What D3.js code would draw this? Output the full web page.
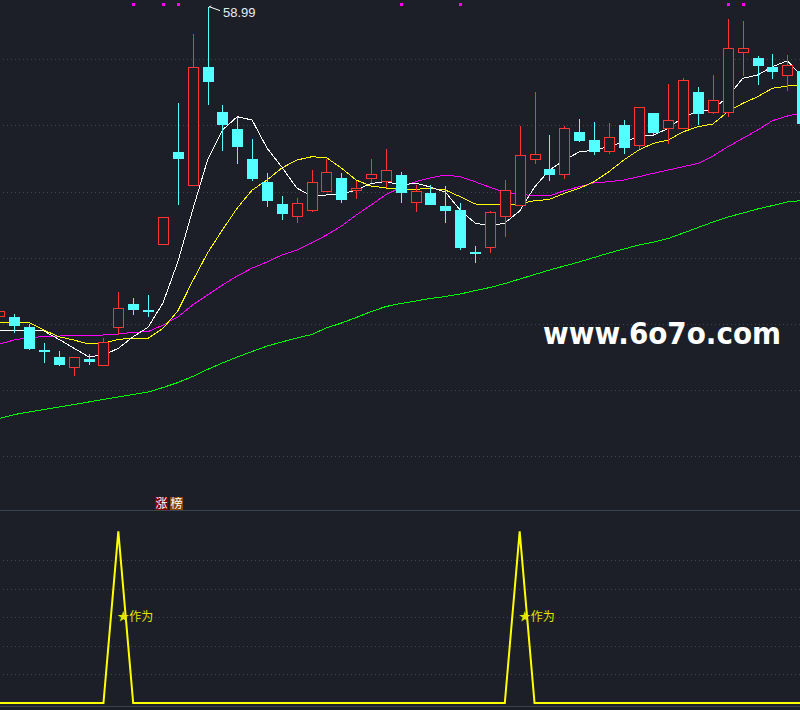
<html>
<head>
<meta charset="utf-8">
<title></title>
<script src="https://cdn.jsdelivr.net/npm/d3@7/dist/d3.min.js"></script>
<style type="text/css">
body { margin: 0; background: #1c1f27; }
svg { display: block; }
</style>
</head>
<body>
<script type="text/javascript">
// k-line values, one per bar (55 bars)
var open  = [35.56,35.51,34.73,33.01,32.48,31.70,32.33,31.82,34.73,36.47,36.01,41.01,47.97,45.47,54.42,51.01,49.73,47.46,45.72,44.03,
             43.09,43.58,45.02,46.00,45.09,45.97,45.74,46.25,44.18,44.89,43.90,43.60,40.39,40.78,43.12,43.96,47.41,46.70,46.30,49.50,
             48.90,48.04,50.03,48.50,50.94,49.75,49.78,52.53,50.99,50.99,55.53,55.10,54.42,53.76,54.12];
var high  = [36.04,35.73,34.98,33.52,32.94,32.46,32.69,33.90,37.40,36.92,37.17,43.05,51.67,56.91,58.99,51.52,50.66,48.97,46.40,44.64,
             44.49,46.63,47.46,46.42,45.80,47.46,48.22,46.48,45.49,45.47,45.39,44.11,40.88,43.53,45.87,49.98,52.53,49.27,49.96,50.48,
             50.26,50.18,50.41,51.37,50.94,53.13,53.59,52.91,53.81,58.05,57.90,55.25,55.40,55.33,54.57];
var low   = [35.36,34.32,33.01,32.05,31.82,31.07,31.90,31.82,34.15,35.68,35.48,41.01,44.00,45.47,51.57,48.09,47.10,45.82,43.85,42.87,
             42.64,43.47,45.02,44.15,44.46,45.62,45.24,44.15,43.47,44.00,42.64,40.60,39.57,40.37,41.58,43.96,47.10,45.82,45.97,48.75,
             47.78,47.86,47.86,48.19,49.27,48.62,49.78,50.03,50.86,50.61,53.74,53.08,53.53,52.63,50.03];
var close = [35.89,34.85,33.09,32.97,31.90,32.46,32.13,33.59,36.17,36.06,35.96,43.05,47.48,54.40,53.31,50.05,48.39,45.97,44.30,43.32,
             44.11,45.70,46.45,44.38,45.24,46.30,46.60,44.91,45.02,44.00,43.55,40.75,40.35,43.43,45.09,47.74,47.81,46.27,49.78,48.84,
             48.01,49.10,48.31,51.37,49.43,50.39,53.41,50.86,51.90,55.83,55.83,54.52,54.06,54.55,50.13];

// moving average lines
var ma5  = [34.52,34.52,34.49,34.45,33.82,33.16,32.50,32.63,33.14,34.02,34.73,36.57,39.67,43.60,47.38,49.65,50.66,50.41,48.29,46.85,
            45.27,44.66,44.74,44.81,45.11,45.61,45.76,45.49,45.64,45.34,44.96,43.60,42.62,42.39,42.62,43.53,45.34,46.63,47.38,47.99,
            48.14,48.39,48.77,49.15,49.27,49.78,50.66,51.04,51.22,52.17,53.56,53.81,54.44,54.89,53.74];
var ma10 = [35.08,35.15,35.09,34.52,34.02,33.77,33.47,33.52,33.82,33.90,33.90,34.65,35.96,38.23,40.35,42.09,43.75,45.11,45.87,46.78,
            47.38,47.63,47.57,46.78,45.87,45.42,45.27,45.17,45.17,45.24,45.11,44.61,44.06,44.03,43.98,44.09,44.30,44.41,44.86,45.24,
            45.74,46.50,47.38,48.14,48.65,48.90,49.52,49.90,50.11,51.04,51.67,52.17,52.81,52.98,53.06];
var ma20 = [33.47,33.77,33.96,34.02,34.07,34.12,34.09,34.15,34.22,34.35,34.40,34.90,35.51,36.42,37.17,37.93,38.61,39.21,39.67,40.20,
            40.58,41.11,41.71,42.39,43.22,43.98,44.77,45.30,45.74,46.04,46.25,46.12,45.74,45.32,44.93,44.79,44.68,44.68,45.06,45.36,
            45.67,45.74,45.87,46.12,46.38,46.63,46.88,47.13,47.69,48.39,49.02,49.65,50.36,50.71,50.94];
var ma60 = [27.83,28.13,28.32,28.51,28.70,28.89,29.08,29.27,29.46,29.65,29.83,30.17,30.55,31.01,31.54,32.03,32.48,32.90,33.31,33.62,
            33.92,34.18,34.68,35.05,35.47,35.92,36.30,36.53,36.72,36.91,37.06,37.25,37.51,37.74,38.04,38.38,38.72,39.06,39.37,39.67,
            40.01,40.35,40.65,40.95,41.18,41.45,41.86,42.28,42.69,43.07,43.37,43.68,43.94,44.21,44.32];

// lower panel indicator
var signal = [0,0,0,0,0,0,0,0,6,0,0,0,0,0,0,0,0,0,0,0,
              0,0,0,0,0,0,0,0,0,0,0,0,0,0,0,6,0,0,0,0,
              0,0,0,0,0,0,0,0,0,0,0,0,0,0,0];
var markBars = [9, 11, 12, 27, 31, 49, 50];   // magenta dots along the top

var priceTicks = [25, 30, 35, 40, 45, 50, 55];
var sigTicks = [1, 2, 3, 4, 5];

var w = 800, h = 710;
var up_col = '#ff3434', dn_col = '#54ffff', bg = '#1c1f27';

var svg = d3.select('body').append('svg')
  .attr('width', w)
  .attr('height', h);

svg.append('rect').attr('width', w).attr('height', h).attr('fill', bg);

var x = d3.scaleLinear().domain([0, open.length - 1]).range([-0.6, 802.1]);
var y = d3.scaleLinear().domain([20.91, 59.49]).range([510, 0]);
var ys = d3.scaleLinear().domain([0, 6.75]).range([703, 510]);

// dotted grid
svg.selectAll('line.pgrid')
  .data(priceTicks).enter()
  .append('line')
  .attr('class', 'pgrid')
  .attr('x1', 3).attr('x2', w)
  .attr('y1', function(d) { return Math.round(y(d)) + 0.5; })
  .attr('y2', function(d) { return Math.round(y(d)) + 0.5; })
  .attr('stroke', '#42464f')
  .attr('stroke-dasharray', '1,3');

svg.selectAll('line.sgrid')
  .data(sigTicks).enter()
  .append('line')
  .attr('class', 'sgrid')
  .attr('x1', 3).attr('x2', w)
  .attr('y1', function(d) { return Math.round(ys(d)) + 0.5; })
  .attr('y2', function(d) { return Math.round(ys(d)) + 0.5; })
  .attr('stroke', '#42464f')
  .attr('stroke-dasharray', '1,3');

// panel borders
svg.append('line').attr('x1', 0).attr('x2', w).attr('y1', 510.5).attr('y2', 510.5)
  .attr('stroke', '#3b4350');
svg.append('line').attr('x1', 0).attr('x2', w).attr('y1', 706.5).attr('y2', 706.5)
  .attr('stroke', '#3b4350');

// watermark
svg.append('text')
  .attr('x', 543).attr('y', 344)
  .attr('font-family', 'DejaVu Sans')
  .attr('font-weight', 'bold')
  .attr('font-size', 30)
  .attr('textLength', 238)
  .attr('lengthAdjust', 'spacingAndGlyphs')
  .attr('fill', '#ffffff')
  .text('www.6o7o.com');

// moving averages
var idx = d3.range(open.length);
function maLine(arr) {
  return d3.line()
    .x(function(i) { return x(i); })
    .y(function(i) { return y(arr[i]); })(idx);
}
[[ma60, '#00ff00'], [ma20, '#ff00ff'], [ma10, '#ffff00'], [ma5, '#ffffff']].forEach(function(m) {
  svg.append('path')
    .attr('d', maLine(m[0]))
    .attr('fill', 'none')
    .attr('stroke', m[1])
    .attr('stroke-width', 1)
    .attr('shape-rendering', 'crispEdges');
});

// candles
var candles = svg.append('g').attr('shape-rendering', 'crispEdges');
idx.forEach(function(i) {
  var cx = Math.round(x(i));
  var isUp = close[i] > open[i];
  var col = isUp ? up_col : dn_col;
  var top = y(Math.max(open[i], close[i]));
  var bot = y(Math.min(open[i], close[i]));
  var g = candles.append('g');
  // wick, split round the hollow body for up bars
  g.append('line')
    .attr('x1', cx + 0.5).attr('x2', cx + 0.5)
    .attr('y1', y(high[i])).attr('y2', top)
    .attr('stroke', col);
  g.append('line')
    .attr('x1', cx + 0.5).attr('x2', cx + 0.5)
    .attr('y1', bot).attr('y2', y(low[i]))
    .attr('stroke', col);
  if (isUp) {
    g.append('rect')
      .attr('x', cx - 4.5).attr('y', top)
      .attr('width', 10).attr('height', Math.max(1, bot - top))
      .attr('fill', bg).attr('stroke', col);
  } else {
    g.append('rect')
      .attr('x', cx - 5).attr('y', top)
      .attr('width', 11).attr('height', Math.max(1.5, bot - top))
      .attr('fill', col);
  }
});

// highest price flag
var hi = d3.maxIndex(high);
var hx = Math.round(x(hi)) + 1, hy = y(high[hi]);
svg.append('path')
  .attr('d', 'M' + hx + ',' + (hy + 1) + 'L' + (hx + 2) + ',' + (hy - 1) + 'M' + hx + ',' + hy + 'L' + (hx + 11) + ',' + (hy + 4))
  .attr('stroke', '#ffffff').attr('fill', 'none');
svg.append('text')
  .attr('x', hx + 14).attr('y', hy + 10)
  .attr('font-family', 'Liberation Sans, Arial')
  .attr('font-size', 13)
  .attr('fill', '#e6ecf5')
  .text(high[hi].toFixed(2));

// magenta marks along the top
svg.selectAll('rect.mark')
  .data(markBars).enter()
  .append('rect')
  .attr('class', 'mark')
  .attr('x', function(i) { return Math.round(x(i)) - 1; })
  .attr('y', 3)
  .attr('width', 3).attr('height', 3)
  .attr('fill', '#ff00ff');

// 涨榜 tags
var tags = [['涨', '#7f0000', 155], ['榜', '#8a4500', 170]];
tags.forEach(function(t) {
  svg.append('rect').attr('x', t[2]).attr('y', 497).attr('width', 13).attr('height', 13).attr('fill', t[1]);
  svg.append('text')
    .attr('x', t[2] + 6.5).attr('y', 508)
    .attr('text-anchor', 'middle')
    .attr('font-family', 'Noto Sans CJK SC')
    .attr('font-size', 12)
    .attr('fill', '#ffffff')
    .text(t[0]);
});

// lower indicator
svg.append('path')
  .attr('d', d3.line().x(function(i) { return x(i); }).y(function(i) { return ys(signal[i]); })(idx))
  .attr('fill', 'none')
  .attr('stroke', '#ffff00')
  .attr('stroke-width', 2);

svg.selectAll('text.sig')
  .data(idx.filter(function(i) { return signal[i] > 0; })).enter()
  .append('text')
  .attr('class', 'sig')
  .attr('x', function(i) { return x(i) - 1; })
  .attr('y', ys(3) + 4)
  .attr('font-family', 'Noto Sans CJK SC')
  .attr('font-size', 12)
  .attr('fill', '#e4e400')
  .text('★作为');
</script>
</body>
</html>
